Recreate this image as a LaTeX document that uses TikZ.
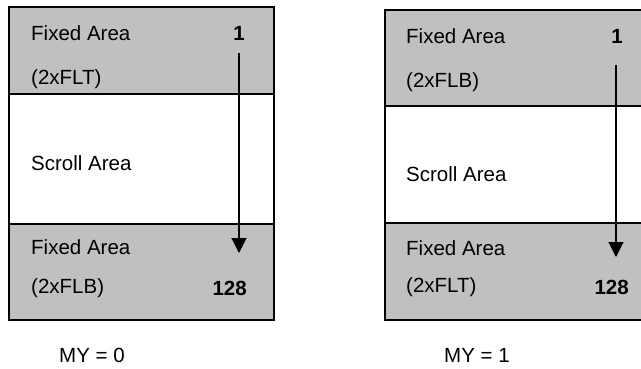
\documentclass[tikz,border=0pt]{standalone}
\usepackage{fontspec}
\setmainfont{Liberation Sans}
\usetikzlibrary{arrows.meta}
\definecolor{areagray}{RGB}{192,192,192}
\tikzset{
  fixedbox/.style={draw=black, line width=1.4pt, fill=areagray, inner sep=0pt, outer sep=0pt},
  scrollbox/.style={draw=black, line width=1.4pt, fill=white, inner sep=0pt, outer sep=0pt},
  lbl/.style={font=\fontsize{20.5}{23}\selectfont, inner sep=0pt, anchor=west},
  num/.style={font=\fontsize{20.5}{23}\selectfont\bfseries, inner sep=0pt},
  flow/.style={line width=1.1pt, -{Triangle[width=15pt,length=15pt]}}
}
\begin{document}
\begin{tikzpicture}[x=1pt,y=-1pt]
\useasboundingbox (0,0) rectangle (641,369);
% left diagram
\draw[fixedbox] (9,7) rectangle (274,94);
\draw[scrollbox] (9,94) rectangle (274,224);
\draw[fixedbox] (9,224) rectangle (274,320);
\node[lbl] (lfa1) at (31,33) {Fixed Area};
\node[lbl] (lflt) at (31,79) {(2xFLT)};
\node[lbl] (lsa) at (31,163) {Scroll Area};
\node[lbl] (lfa2) at (31,247) {Fixed Area};
\node[lbl] (lflb) at (31,288) {(2xFLB)};
\node[num] (lone) at (239,33) {1};
\node[num, anchor=east] (l128) at (247,288) {128};
\coordinate (lstart) at (239,53);
\coordinate (lend) at (239,253);
\draw[flow] (lstart) -- (lend);
\node[lbl, anchor=center] (lmy) at (92,355) {MY = 0};
% right diagram
\draw[fixedbox] (385,10) rectangle (642,106);
\draw[scrollbox] (385,106) rectangle (642,223);
\draw[fixedbox] (385,223) rectangle (642,320);
\node[lbl] (rfa1) at (406,36) {Fixed Area};
\node[lbl] (rflb) at (406,82) {(2xFLB)};
\node[lbl] (rsa) at (406,174) {Scroll Area};
\node[lbl] (rfa2) at (406,248) {Fixed Area};
\node[lbl] (rflt) at (406,287) {(2xFLT)};
\node[num] (rone) at (617,36) {1};
\node[num, anchor=east] (r128) at (629,287) {128};
\coordinate (rstart) at (616,65);
\coordinate (rend) at (616,257);
\draw[flow] (rstart) -- (rend);
\node[lbl, anchor=center] (rmy) at (477,355) {MY = 1};
\end{tikzpicture}
\end{document}
